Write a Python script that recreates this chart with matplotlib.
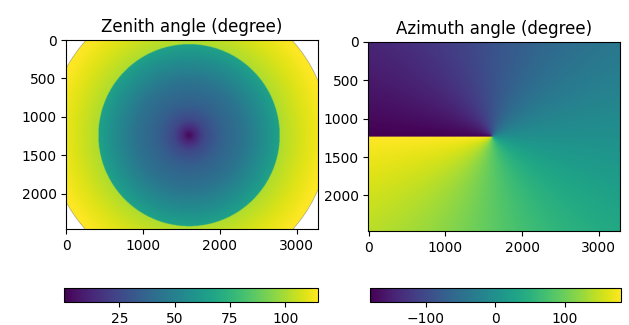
import numpy as np
import matplotlib
matplotlib.use("Agg")
import matplotlib.pyplot as plt

# Sensor geometry (pixels)
width_px, height_px = 3280, 2464
step = 4

# Zenith angle: radial profile around the optical centre
zen_center = (1600, 1245)
inner_radius = 1180          # edge of the inner disk
outer_radius = 1820          # beyond this the field of view ends (no data)
inner_r = [0, 80, 200, 400, 700, 950, 1180]
inner_zen = [2, 12, 25, 35, 44, 55, 66]
outer_r = [1181, 1500, 1820]
outer_zen = [101, 109, 116]

# Azimuth angle: centre of the polar angle field
azi_center = (1615, 1237)

zen_ticks = [25, 50, 75, 100]
azi_ticks = [-100, 0, 100]

# Pixel grid
xs = np.arange(0, width_px, step)
ys = np.arange(0, height_px, step)
X, Y = np.meshgrid(xs, ys)

R = np.hypot(X - zen_center[0], Y - zen_center[1])
zenith = np.where(R <= inner_radius,
                  np.interp(R, inner_r, inner_zen),
                  np.interp(R, outer_r, outer_zen))
zenith = np.where(R > outer_radius, np.nan, zenith)

azimuth = np.degrees(np.arctan2(Y - azi_center[1], X - azi_center[0]))

extent = (-0.5, width_px - 0.5, height_px - 0.5, -0.5)

fig = plt.figure(figsize=(6.29, 3.25), dpi=100)

ax1 = fig.add_axes([0.105, 0.295, 0.401, 0.582])
im1 = ax1.imshow(zenith, cmap="viridis", extent=extent, vmin=0, vmax=115,
                 interpolation="bilinear")
ax1.set_title("Zenith angle (degree)", fontsize=12)
ax1.set_xticks([0, 1000, 2000, 3000])
ax1.set_yticks([0, 500, 1000, 1500, 2000])

ax2 = fig.add_axes([0.585, 0.289, 0.402, 0.582])
im2 = ax2.imshow(azimuth, cmap="viridis", extent=extent, vmin=-180, vmax=180,
                 interpolation="bilinear")
ax2.set_title("Azimuth angle (degree)", fontsize=12)
ax2.set_xticks([0, 1000, 2000, 3000])
ax2.set_yticks([0, 500, 1000, 1500, 2000])

for ax in (ax1, ax2):
    ax.tick_params(labelsize=10)

cax1 = fig.add_axes([0.102, 0.071, 0.404, 0.043])
cb1 = fig.colorbar(im1, cax=cax1, orientation="horizontal", ticks=zen_ticks)
cax2 = fig.add_axes([0.588, 0.071, 0.399, 0.043])
cb2 = fig.colorbar(im2, cax=cax2, orientation="horizontal", ticks=azi_ticks)
for cb in (cb1, cb2):
    cb.ax.tick_params(labelsize=10)

fig.savefig("out.png", dpi=100)
